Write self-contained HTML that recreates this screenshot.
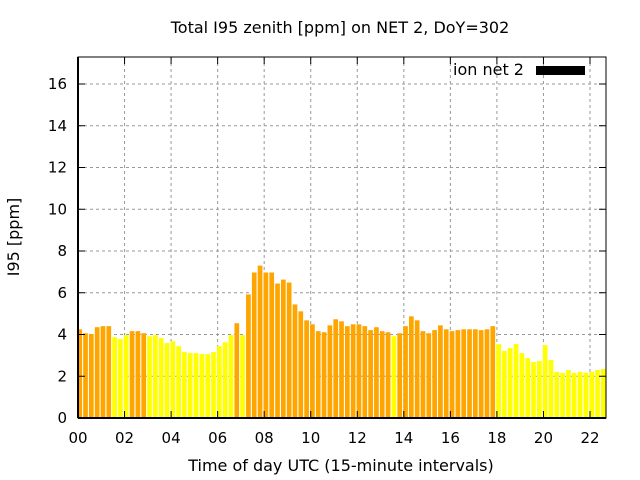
<!DOCTYPE html>
<html><head><meta charset="utf-8"><style>
body{margin:0;background:#fff}
svg{display:block;font-family:"DejaVu Sans","Liberation Sans",sans-serif}
</style></head><body>
<svg id="chart" width="640" height="480">
<rect width="640" height="480" fill="#fff"/>
<text x="340" y="33" text-anchor="middle" font-size="16">Total I95 zenith [ppm] on NET 2, DoY=302</text>
<g id="grid"></g><g id="bars"></g><g id="axes"></g>
<text x="453" y="75" font-size="16">ion net 2</text>
<rect x="536" y="66" width="49" height="9" fill="#000"/>
<text x="341" y="471" text-anchor="middle" font-size="16">Time of day UTC (15-minute intervals)</text>
<text transform="translate(19,237) rotate(-90)" text-anchor="middle" font-size="16">I95 [ppm]</text>
</svg>
<script>
const values=[4.25,4.06,4.02,4.35,4.4,4.4,3.87,3.78,3.97,4.16,4.16,4.06,3.92,3.97,3.83,3.59,3.68,3.44,3.16,3.11,3.11,3.06,3.06,3.16,3.44,3.63,3.97,4.54,3.97,5.92,6.97,7.3,6.97,6.97,6.44,6.63,6.49,5.44,5.11,4.68,4.49,4.16,4.11,4.44,4.73,4.63,4.4,4.49,4.49,4.4,4.21,4.35,4.16,4.11,3.92,4.06,4.4,4.87,4.68,4.16,4.06,4.21,4.44,4.25,4.16,4.21,4.25,4.25,4.25,4.21,4.25,4.4,3.54,3.21,3.35,3.54,3.11,2.87,2.68,2.73,3.49,2.78,2.21,2.16,2.3,2.16,2.21,2.16,2.21,2.3,2.35,2.0];
const yellowIdx=[6,7,8,12,13,14,15,16,17,18,19,20,21,22,23,24,25,26,28,54,72,73,74,75,76,77,78,79,80,81,82,83,84,85,86,87,88,89,90,91];
const yTicks=[0,2,4,6,8,10,12,14,16];
const xTickLabels=["00","02","04","06","08","10","12","14","16","18","20","22"];
const L=78,R=606,T=57,B=418;
const xs=h=>L+h*(590-78)/22;
const ys=v=>B-v*(418-84)/16;
const NS="http://www.w3.org/2000/svg";
function mk(tag,attrs,parent){const e=document.createElementNS(NS,tag);for(const k in attrs)e.setAttribute(k,attrs[k]);parent.appendChild(e);return e;}
const grid=document.getElementById('grid'),bars=document.getElementById('bars'),axes=document.getElementById('axes');
const cp=mk('clipPath',{id:'clip'},bars);
mk('rect',{x:L,y:T,width:R-L,height:B-T},cp);
const bg=mk('g',{'clip-path':'url(#clip)'},bars);
yTicks.forEach(v=>{
 if(v>0){const g=mk('line',{x1:L,x2:R,y1:ys(v),y2:ys(v),stroke:'#999','stroke-dasharray':'3,3'},grid);
 }
 const t=mk('text',{x:L-11,y:ys(v)+5,'text-anchor':'end','font-size':15},axes);t.textContent=v;
 
 mk('line',{x1:L,x2:L+7,y1:ys(v),y2:ys(v),stroke:'#000'},axes);
 mk('line',{x1:R,x2:R-7,y1:ys(v),y2:ys(v),stroke:'#000'},axes);
});
xTickLabels.forEach((lab,i)=>{
 const x=xs(i*2);
 if(i>0){const g=mk('line',{x1:x,x2:x,y1:T,y2:B,stroke:'#999','stroke-dasharray':'3,3'},grid);
 }
 const t=mk('text',{x:x,y:443,'text-anchor':'middle','font-size':15},axes);t.textContent=lab;
 
 mk('line',{x1:x,x2:x,y1:B,y2:B-7,stroke:'#000'},axes);
 mk('line',{x1:x,x2:x,y1:T,y2:T+7,stroke:'#000'},axes);
});
values.forEach((v,i)=>{
 const c=xs(i*0.25+0.073),w=4.7;
 const r=mk('rect',{x:c-w/2,y:ys(v),width:w,height:B-ys(v),fill:yellowIdx.includes(i)?'#ffff00':'#ffa500'},bg);
 
 
});
const fr=mk('rect',{x:L,y:T,width:R-L,height:B-T,fill:'none',stroke:'#000','stroke-width':1},axes);


mk('line',{x1:L,x2:R,y1:B,y2:B,stroke:'#000','stroke-width':2},axes);
mk('line',{x1:L,x2:L,y1:T,y2:B,stroke:'#000','stroke-width':2},axes);
</script>
</body></html>
